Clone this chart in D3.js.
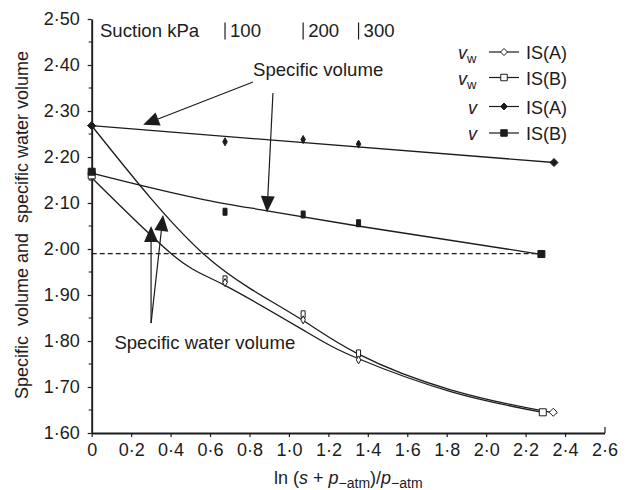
<!DOCTYPE html>
<html><head><meta charset="utf-8">
<script src="https://cdn.jsdelivr.net/npm/d3@7"></script>
<style>
html,body{margin:0;padding:0;background:#fff;}
svg{display:block;font-family:"Liberation Sans",Arial,Helvetica,sans-serif;}
</style></head><body><svg id="chart" width="628" height="490"></svg>
<script>
// x = ln((s + p_atm)/p_atm); suction stages marked along the top
const suctionKPa = [100, 200, 300];
const suctionLn = [0.676, 1.072, 1.353];

// measured specific volume v and specific water volume vw
const vA_x = [0, 0.676, 1.072, 1.353, 2.344];
const vA_y = [2.268, 2.233, 2.238, 2.228, 2.188];
const vB_x = [0, 0.676, 1.072, 1.353, 2.28];
const vB_y = [2.168, 2.081, 2.075, 2.056, 1.989];
const vwA_x = [0, 0.676, 1.072, 1.353, 2.34];
const vwA_y = [2.268, 1.927, 1.846, 1.759, 1.645];
const vwB_x = [0, 0.676, 1.072, 1.353, 2.287];
const vwB_y = [2.16, 1.934, 1.858, 1.773, 1.645];

// fitted trend lines
const vA_fitX = [0, 2.344];
const vA_fitY = [2.268, 2.188];
const vB_fitX = [0, 0.574, 0.889, 1.35, 2.27];
const vB_fitY = [2.165, 2.107, 2.083, 2.050, 1.989];
const vwA_fitX = [0, 0.3, 0.56, 0.8, 1.07, 1.35, 1.82, 2.29, 2.34];
const vwA_fitY = [2.268, 2.11, 1.992, 1.915, 1.845, 1.772, 1.694, 1.648, 1.645];
const vwB_fitX = [0, 0.414, 0.67, 1.08, 1.35, 1.82, 2.287];
const vwB_fitY = [2.155, 1.986, 1.922, 1.822, 1.762, 1.690, 1.645];

// saturation level
const saturationV = 1.99;
const saturationEnd = 2.30;

// axis ticks
const yTicks = [1.6, 1.7, 1.8, 1.9, 2.0, 2.1, 2.2, 2.3, 2.4, 2.5];
const yMinor = [1.65, 1.75, 1.85, 1.95, 2.05, 2.15, 2.25, 2.35, 2.45];
const xTicks = [0, 0.2, 0.4, 0.6, 0.8, 1.0, 1.2, 1.4, 1.6, 1.8, 2.0, 2.2, 2.4, 2.6];

// annotation arrows (start, tip) in data units
const arrowStart = [[0.818, 2.363], [0.919, 2.339], [0.301, 1.839], [0.301, 1.839]];
const arrowTip = [[0.261, 2.270], [0.889, 2.080], [0.301, 2.050], [0.362, 2.074]];

const svg = d3.select("#chart");
const ink = "#1c1c1c";
const x = d3.scaleLinear().domain([0, 2.6]).range([91.7, 604.5]);
const y = d3.scaleLinear().domain([1.6, 2.5]).range([433, 19]);

// y axis
const yAx = svg.append("g").attr("transform", `translate(${x(0)},0)`)
  .call(d3.axisLeft(y).tickValues(yTicks).tickSize(4).tickSizeOuter(0).tickPadding(8)
    .tickFormat(d => d.toFixed(2).replace(".", "\u00B7")));
svg.append("g").selectAll("line").data(yMinor).join("line")
  .attr("x1", x(0) - 3).attr("x2", x(0)).attr("y1", d => y(d)).attr("y2", d => y(d))
  .attr("stroke", ink).attr("stroke-width", 1.1);

// x axis
const xAx = svg.append("g").attr("transform", `translate(0,${y(1.6)})`)
  .call(d3.axisBottom(x).tickValues(xTicks).tickSize(4).tickSizeOuter(0).tickPadding(6)
    .tickFormat(d => d === 0 ? "0" : d.toFixed(1).replace(".", "\u00B7")));
xAx.selectAll(".tick line").filter(d => d === 2.6).attr("y2", -6);

[yAx, xAx].forEach(g => {
  g.select(".domain").attr("stroke", ink).attr("stroke-width", 1.9);
  g.selectAll(".tick line").attr("stroke", ink).attr("stroke-width", 1.2);
  g.selectAll(".tick text").attr("fill", ink).style("font-size", "18px")
    .style("font-family", '"Liberation Sans",Arial,sans-serif');
});

// dashed saturation line
svg.append("line")
  .attr("x1", x(0)).attr("x2", x(saturationEnd))
  .attr("y1", y(saturationV)).attr("y2", y(saturationV))
  .attr("stroke", ink).attr("stroke-width", 1.4).attr("stroke-dasharray", "5,3");

// trend lines
const lineMono = d3.line().x(d => x(d[0])).y(d => y(d[1])).curve(d3.curveMonotoneX);
const lineSmooth = d3.line().x(d => x(d[0])).y(d => y(d[1])).curve(d3.curveNatural);
const fits = [[vA_fitX, vA_fitY, lineMono], [vB_fitX, vB_fitY, lineMono],
              [vwA_fitX, vwA_fitY, lineSmooth], [vwB_fitX, vwB_fitY, lineSmooth]];
fits.forEach(([xs, ys, gen]) => {
  svg.append("path").datum(xs.map((v, i) => [v, ys[i]]))
    .attr("d", gen).attr("fill", "none").attr("stroke", ink).attr("stroke-width", 1.3);
});

// marker shapes
const diamondPath = (w, h) => `M0,${-h/2}L${w/2},0L0,${h/2}L${-w/2},0Z`;
const rectPath = (w, h) => `M${-w/2},${-h/2}h${w}v${h}h${-w}Z`;

function markers(xs, ys, shape, filled) {
  const pts = xs.map((v, i) => ({x: v, y: ys[i], i, last: i === xs.length - 1}));
  svg.append("g").selectAll("path").data(pts).join("path")
    .attr("transform", d => `translate(${x(d.x)},${y(d.y)})`)
    .attr("d", d => {
      const full = d.last || d.i === 0;
      if (shape === "diamond") return full ? diamondPath(8, 8) : diamondPath(4.5, 8);
      return full ? rectPath(7, 7) : rectPath(4, 7);
    })
    .attr("fill", filled ? ink : "#fff")
    .attr("stroke", ink).attr("stroke-width", 1);
}
markers(vwB_x, vwB_y, "square", false);
markers(vwA_x, vwA_y, "diamond", false);
markers(vB_x, vB_y, "square", true);
markers(vA_x, vA_y, "diamond", true);

// arrows
arrowStart.forEach((s, i) => {
  const t = arrowTip[i];
  const x0 = x(s[0]), y0 = y(s[1]), x1 = x(t[0]), y1 = y(t[1]);
  const dx = x1 - x0, dy = y1 - y0, len = Math.hypot(dx, dy);
  const ux = dx / len, uy = dy / len;
  const L = 16, W = 7;
  const bx = x1 - ux * L, by = y1 - uy * L;
  svg.append("line").attr("x1", x0).attr("y1", y0).attr("x2", bx).attr("y2", by)
    .attr("stroke", ink).attr("stroke-width", 1.2);
  svg.append("path")
    .attr("d", `M${x1},${y1}L${bx - uy * W},${by + ux * W}L${bx + uy * W},${by - ux * W}Z`)
    .attr("fill", ink);
});

// annotation text
const label = (px, py, txt) => svg.append("text").attr("x", px).attr("y", py)
  .attr("fill", ink).style("font-size", "18.6px").text(txt);
label(x(0.818), 76, "Specific volume");
label(x(0.115), 348.5, "Specific water volume");

// suction header
label(x(0.042), 37, "Suction kPa");
suctionLn.forEach((s, i) => {
  svg.append("line").attr("x1", x(s)).attr("x2", x(s)).attr("y1", 22.5).attr("y2", 39.5)
    .attr("stroke", ink).attr("stroke-width", 1.2);
  label(x(s) + 5, 37, String(suctionKPa[i]));
});

// legend
const legendRows = [
  {sym: "v", sub: "w", shape: "diamond", filled: false, name: "IS(A)", ly: 52, sx: 458},
  {sym: "v", sub: "w", shape: "square", filled: false, name: "IS(B)", ly: 77.5, sx: 458},
  {sym: "v", sub: "", shape: "diamond", filled: true, name: "IS(A)", ly: 106.5, sx: 468},
  {sym: "v", sub: "", shape: "square", filled: true, name: "IS(B)", ly: 133, sx: 468}
];
legendRows.forEach(r => {
  const t = svg.append("text").attr("x", r.sx).attr("y", r.ly + 7).attr("fill", ink)
    .style("font-size", "18px");
  t.append("tspan").style("font-style", "italic").text(r.sym);
  if (r.sub) t.append("tspan").attr("dy", 4).style("font-size", "13px").text(r.sub);
  svg.append("line").attr("x1", 489).attr("x2", 519).attr("y1", r.ly).attr("y2", r.ly)
    .attr("stroke", ink).attr("stroke-width", 1.2);
  svg.append("path").attr("transform", `translate(504,${r.ly})`)
    .attr("d", r.shape === "diamond" ? diamondPath(7, 7) : rectPath(6.5, 6.5))
    .attr("fill", r.filled ? ink : "#fff").attr("stroke", ink).attr("stroke-width", 1);
  svg.append("text").attr("x", 526).attr("y", r.ly + 7).attr("fill", ink)
    .style("font-size", "18px").text(r.name);
});

// axis titles
svg.append("text").attr("transform", "translate(27.5,225) rotate(-90)")
  .attr("text-anchor", "middle").attr("fill", ink).style("font-size", "18px")
  .attr("xml:space", "preserve").style("white-space", "pre")
  .text("Specific  volume and  specific water volume");

const xt = svg.append("text").attr("x", 274).attr("y", 484).attr("fill", ink)
  .style("font-size", "18px").style("white-space", "pre");
xt.append("tspan").text("ln (");
xt.append("tspan").style("font-style", "italic").text("s");
xt.append("tspan").text(" + ");
xt.append("tspan").style("font-style", "italic").text("p");
xt.append("tspan").attr("dy", 4).style("font-size", "14px").text("\u2212atm");
xt.append("tspan").attr("dy", -4).text(")/");
xt.append("tspan").style("font-style", "italic").text("p");
xt.append("tspan").attr("dy", 4).style("font-size", "14px").text("\u2212atm");
</script></body></html>
